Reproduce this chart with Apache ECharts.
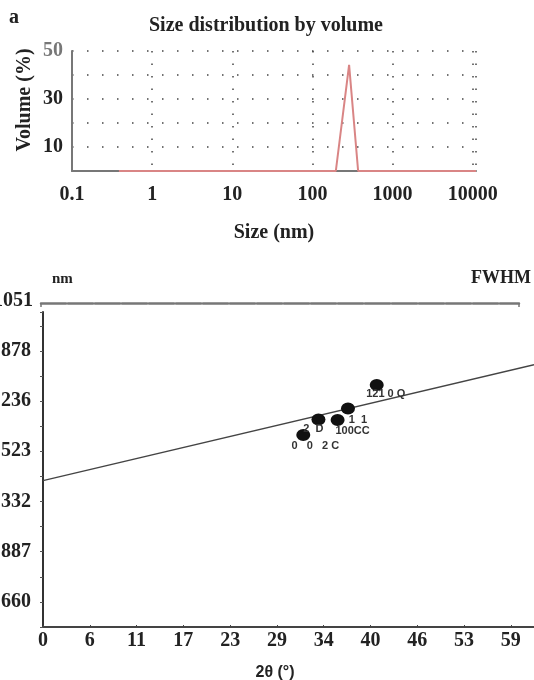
<!DOCTYPE html>
<html>
<head>
<meta charset="utf-8">
<script src="https://cdn.jsdelivr.net/npm/echarts@6/dist/echarts.min.js"></script>
<style>
  html, body { margin: 0; padding: 0; background: #fff; }
  #chart { width: 534px; height: 680px; }
</style>
</head>
<body>
<div id="chart"></div>
<script>
// Panel a: size distribution by volume (log size axis)
var sizeNm = [0.385, 196, 287, 372, 11000];
var volumePct = [0, 0, 44.2, 0, 0];
var sizeTickLabels = ['0.1', '1', '10', '100', '1000', '10000'];
var volumeTickLabels = { 10: '10', 30: '30', 50: '50' };

// Panel b: FWHM vs 2theta
var twoTheta = [41.8, 38.2, 36.9, 34.5, 32.6];
var fwhm = [9.64, 8.71, 8.25, 8.27, 7.65];
var peakLabels = ['121 0 Q', '1  1', '100CC', '2  D', '0   0   2 C'];
var fitTheta = [0, 61.5];
var fitFwhm = [5.83, 10.45];
var thetaStep = 5.86;
var thetaTickLabels = ['0', '6', '11', '17', '23', '29', '34', '40', '46', '53', '59'];
var fwhmTickLabels = ['660', '887', '332', '523', '236', '878', '1051'];

var serif = 'Liberation Serif';
var dark = '#222';

function init() {
    var chart = echarts.init(document.getElementById('chart'), null, { renderer: 'canvas' });

    // label offsets per point, in px
    var labelOffsets = [[9, 9], [10, 12], [15, 11], [-5, 10], [12, 11]];

    var pointData = twoTheta.map(function (t, i) {
        return {
            value: [t, fwhm[i]],
            label: {
                show: true,
                formatter: peakLabels[i],
                position: 'inside',
                offset: labelOffsets[i],
                color: '#333',
                fontFamily: 'Liberation Sans',
                fontSize: 11,
                fontWeight: 'bold'
            }
        };
    });

    var option = {
        backgroundColor: '#fff',
        animation: false,
        title: [
            { text: 'a', left: 9, top: 8, padding: 0,
              textStyle: { fontFamily: serif, fontWeight: 'bold', fontSize: 20, color: dark } },
            { text: 'Size distribution by volume', left: 149, top: 16, padding: 0,
              textStyle: { fontFamily: serif, fontWeight: 'bold', fontSize: 20, color: dark } },
            { text: 'nm', left: 52, top: 272, padding: 0,
              textStyle: { fontFamily: serif, fontWeight: 'bold', fontSize: 15, color: dark } },
            { text: 'FWHM', right: 3, top: 269, padding: 0,
              textStyle: { fontFamily: serif, fontWeight: 'bold', fontSize: 18, color: dark } }
        ],
        grid: [
            { left: 72, right: 58, top: 51, height: 120, outerBoundsMode: 'none' },
            { left: 43, right: 0, top: 312, height: 315, outerBoundsMode: 'none' },
            { left: 41, right: 15, top: 301, height: 2, outerBoundsMode: 'none' }
        ],
        xAxis: [
            {
                gridIndex: 0,
                type: 'log',
                logBase: 10,
                min: 0.1,
                max: 11000,
                name: 'Size (nm)',
                nameLocation: 'middle',
                nameGap: 52,
                nameTextStyle: { fontFamily: serif, fontWeight: 'bold', fontSize: 20, color: dark },
                axisLine: { show: true, lineStyle: { color: '#777', width: 2 } },
                axisTick: { show: false },
                axisLabel: {
                    margin: 14,
                    fontFamily: serif, fontWeight: 'bold', fontSize: 20, color: dark,
                    formatter: function (v) {
                        var e = Math.log10(v);
                        var k = Math.round(e);
                        if (Math.abs(e - k) > 0.01) return '';
                        return sizeTickLabels[k + 1] || '';
                    }
                },
                splitLine: { show: true, lineStyle: { color: '#444', width: 1.5, type: [1.5, 11] } }
            },
            {
                gridIndex: 1,
                type: 'value',
                min: 0,
                max: 61.5,
                interval: thetaStep,
                name: '2θ (°)',
                nameLocation: 'middle',
                nameGap: 38,
                nameTextStyle: { fontFamily: 'Liberation Sans', fontWeight: 'bold', fontSize: 16, color: dark,
                                 padding: [0, 27, 0, 0] },
                axisLine: { lineStyle: { color: '#444', width: 2 } },
                axisTick: { show: true, inside: true, length: 2, lineStyle: { color: '#444' } },
                axisLabel: {
                    margin: 4,
                    fontFamily: serif, fontWeight: 'bold', fontSize: 20, color: dark,
                    formatter: function (v) {
                        var k = Math.round(v / thetaStep);
                        if (Math.abs(v - k * thetaStep) > 0.01) return '';
                        return thetaTickLabels[k] || '';
                    }
                },
                splitLine: { show: false }
            },
            {
                gridIndex: 2,
                type: 'value',
                min: 0,
                max: 1,
                interval: 1,
                axisLine: { lineStyle: { color: '#777', width: 2.5, type: [25, 2] } },
                axisTick: { show: true, inside: false, length: 4, lineStyle: { color: '#777', width: 1.5 } },
                axisLabel: { show: false },
                splitLine: { show: false }
            }
        ],
        yAxis: [
            {
                gridIndex: 0,
                type: 'value',
                min: 0,
                max: 50,
                interval: 10,
                name: 'Volume (%)',
                nameLocation: 'middle',
                nameGap: 37,
                nameMoveOverlap: false,
                nameTextStyle: { fontFamily: serif, fontWeight: 'bold', fontSize: 20, color: dark,
                                 padding: [0, 0, 0, 22] },
                axisLine: { show: true, lineStyle: { color: '#777', width: 2 } },
                axisTick: { show: false },
                axisLabel: {
                    margin: 9,
                    fontFamily: serif, fontWeight: 'bold', fontSize: 20,
                    color: function (v) { return Number(v) === 50 ? '#777' : dark; },
                    formatter: function (v) { return volumeTickLabels[v] || ''; }
                },
                splitLine: { show: true, lineStyle: { color: '#444', width: 1.5, type: [1.5, 13.5] } }
            },
            {
                gridIndex: 1,
                type: 'value',
                min: 0,
                max: 12.55,
                interval: 1,
                axisLine: { show: true, lineStyle: { color: '#333', width: 2 } },
                axisTick: { show: true, length: 3, lineStyle: { color: '#555' } },
                axisLabel: {
                    margin: 12,
                    fontFamily: serif, fontWeight: 'bold', fontSize: 20, color: dark,
                    formatter: function (v) {
                        if (Math.abs(v - Math.round(v)) > 0.01) return '';
                        var k = Math.round(v);
                        if (k % 2 === 0) return '';
                        return fwhmTickLabels[(k - 1) / 2] || '';
                    }
                },
                splitLine: { show: false }
            },
            {
                gridIndex: 2,
                type: 'value',
                min: 0,
                max: 1,
                interval: 1,
                axisLine: { show: false },
                axisTick: { show: false },
                axisLabel: {
                    margin: 8,
                    fontFamily: serif, fontWeight: 'bold', fontSize: 20, color: dark,
                    formatter: function (v) { return v === 1 ? fwhmTickLabels[fwhmTickLabels.length - 1] : ''; }
                },
                splitLine: { show: false }
            }
        ],
        series: [
            {
                name: 'volume',
                type: 'line',
                xAxisIndex: 0,
                yAxisIndex: 0,
                data: sizeNm.map(function (s, i) { return [s, volumePct[i]]; }),
                showSymbol: false,
                lineStyle: { color: '#d98585', width: 2 },
                z: 5
            },
            {
                name: 'fit',
                type: 'line',
                xAxisIndex: 1,
                yAxisIndex: 1,
                data: fitTheta.map(function (t, i) { return [t, fitFwhm[i]]; }),
                showSymbol: false,
                lineStyle: { color: '#444', width: 1.3 },
                z: 3
            },
            {
                name: 'peaks',
                type: 'scatter',
                xAxisIndex: 1,
                yAxisIndex: 1,
                data: pointData,
                symbol: 'circle',
                symbolSize: [14, 12],
                itemStyle: { color: '#111', opacity: 1 },
                z: 4
            }
        ]
    };

    chart.setOption(option);
}

window.onload = init;
</script>
</body>
</html>
